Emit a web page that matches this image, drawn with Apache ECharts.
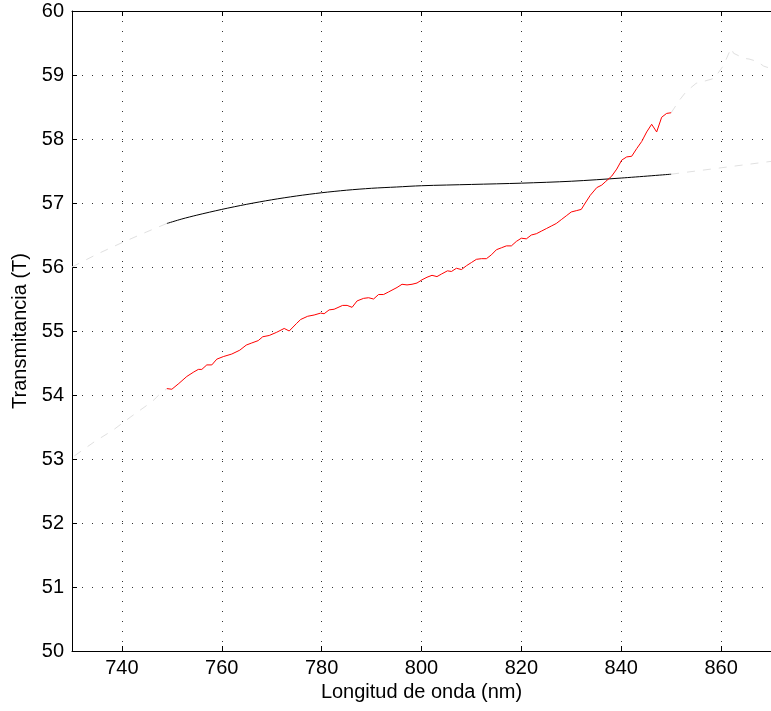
<!DOCTYPE html>
<html>
<head>
<meta charset="utf-8">
<script src="https://cdn.jsdelivr.net/npm/echarts@6/dist/echarts.min.js"></script>
<style>
  html, body { margin: 0; padding: 0; background: #ffffff; }
  #chart { width: 771px; height: 711px; }
</style>
</head>
<body>
<div id="chart"></div>
<script>
// Measured transmittance (red) between 749 and 850 nm
const redWl = [749.0, 750.0, 751.4, 753.0, 754.4, 755.3, 756.0, 757.0, 758.0, 759.0,
  760.3, 762.0, 763.6, 764.9, 765.9, 767.3, 768.2, 769.5, 771.0, 772.5,
  773.5, 775.0, 775.8, 777.2, 778.5, 779.8, 780.5, 781.5, 782.5, 784.2,
  785.1, 786.1, 787.1, 788.4, 789.4, 790.4, 791.4, 792.4, 793.4, 795.1,
  796.1, 797.1, 798.1, 799.1, 800.1, 801.1, 802.1, 803.1, 804.0, 805.2,
  806.0, 807.0, 808.0, 809.0, 810.0, 811.0, 812.0, 813.0, 814.0, 815.0,
  816.0, 817.0, 818.0, 819.0, 820.0, 821.0, 822.0, 823.0, 824.0, 825.0,
  826.0, 827.0, 828.0, 829.0, 830.0, 831.0, 832.0, 832.8, 833.8, 835.1,
  836.1, 836.8, 838.1, 839.1, 840.1, 841.1, 842.1, 843.1, 844.1, 845.1,
  846.1, 847.1, 848.1, 849.1, 850.0];
const redT = [54.10, 54.09, 54.18, 54.29, 54.36, 54.40, 54.40, 54.47, 54.47, 54.56,
  54.60, 54.64, 54.70, 54.78, 54.81, 54.85, 54.91, 54.93, 54.98, 55.04,
  55.00, 55.12, 55.18, 55.23, 55.25, 55.28, 55.27, 55.33, 55.34, 55.40,
  55.40, 55.37, 55.47, 55.51, 55.52, 55.50, 55.57, 55.57, 55.61, 55.68,
  55.73, 55.72, 55.73, 55.75, 55.80, 55.84, 55.87, 55.85, 55.89, 55.94,
  55.93, 55.98, 55.96, 56.02, 56.07, 56.12, 56.13, 56.13, 56.19, 56.27,
  56.30, 56.33, 56.33, 56.40, 56.45, 56.44, 56.50, 56.52, 56.56, 56.60,
  56.64, 56.68, 56.74, 56.80, 56.86, 56.88, 56.90, 57.00, 57.12, 57.24,
  57.28, 57.33, 57.42, 57.53, 57.67, 57.72, 57.73, 57.85, 57.96, 58.11,
  58.23, 58.11, 58.34, 58.40, 58.41];

// Model curve (black) over the same range
const blackWl = [749, 752, 755, 760, 765, 770, 775, 780, 785, 790, 795, 800, 810, 820, 830, 840, 850];
const blackT = [56.68, 56.75, 56.81, 56.90, 56.98, 57.05, 57.11, 57.16, 57.20, 57.23, 57.25, 57.27, 57.29, 57.31, 57.34, 57.39, 57.45];

// Light dashed continuations outside the measured range
const blackExtLeftWl = [730, 735, 740, 745, 749];
const blackExtLeftT = [56.00, 56.20, 56.38, 56.55, 56.68];
const blackExtRightWl = [850, 855, 860, 865, 870];
const blackExtRightT = [57.45, 57.50, 57.55, 57.60, 57.65];
const redExtLeftWl = [730.5, 734.5, 738.2, 741.8, 746.1, 747.4, 749.0];
const redExtLeftT = [53.05, 53.27, 53.45, 53.66, 53.90, 54.00, 54.10];
const redExtRightWl = [850.0, 851.7, 853.0, 855.0, 856.5, 858.7, 859.3, 860.5, 862.0, 862.5, 864.6, 865.6, 867.3, 868.5, 870.0];
const redExtRightT = [58.41, 58.61, 58.74, 58.87, 58.90, 58.95, 59.02, 59.15, 59.42, 59.34, 59.26, 59.25, 59.21, 59.14, 59.10];

const yTicks = [50, 51, 52, 53, 54, 55, 56, 57, 58, 59, 60];

const pairs = (xs, ys) => xs.map((x, i) => [x, ys[i]]);

const FONT = 'Liberation Sans, Arial, Helvetica, sans-serif';
const gridLine = { show: true, lineStyle: { color: '#333333', width: 1, type: [1, 9] } };

const grayLine = (xs, ys) => ({
  type: 'line',
  data: pairs(xs, ys),
  showSymbol: false,
  symbol: 'none',
  lineStyle: { color: '#e0e0e0', width: 1, type: [8, 8] },
  z: 1
});

const chart = echarts.init(document.getElementById('chart'), null, { renderer: 'canvas' });
chart.setOption({
  animation: false,
  backgroundColor: '#ffffff',
  grid: { left: 72, top: 11, width: 704, height: 640, containLabel: false },
  xAxis: [
    {
      type: 'value', min: 730, max: 870, splitNumber: 7, position: 'bottom',
      axisLine: { show: true, lineStyle: { color: '#000', width: 1 } },
      axisTick: { show: true, inside: true, length: 5, lineStyle: { color: '#000' } },
      axisLabel: { showMinLabel: false, showMaxLabel: false, color: '#000', fontSize: 20, fontFamily: FONT, margin: 7 },
      splitLine: gridLine,
      name: 'Longitud de onda (nm)', nameLocation: 'middle', nameGap: 30,
      nameTextStyle: { color: '#000', fontSize: 20, fontFamily: FONT }
    },
    {
      type: 'value', min: 730, max: 870, splitNumber: 7, position: 'top',
      axisLine: { show: true, lineStyle: { color: '#000', width: 1 } },
      axisTick: { show: true, inside: true, length: 5, lineStyle: { color: '#000' } },
      axisLabel: { show: false },
      splitLine: { show: false }
    }
  ],
  yAxis: {
    type: 'value', min: yTicks[0], max: yTicks[yTicks.length - 1], interval: 1,
    axisLine: { show: true, lineStyle: { color: '#000', width: 1 } },
    axisTick: { show: true, inside: true, length: 5, lineStyle: { color: '#000' } },
    axisLabel: { color: '#000', fontSize: 20, fontFamily: FONT, margin: 8 },
    splitLine: gridLine,
    name: 'Transmitancia (T)', nameLocation: 'middle', nameGap: 42,
    nameTextStyle: { color: '#000', fontSize: 20, fontFamily: FONT }
  },
  series: [
    grayLine(blackExtLeftWl, blackExtLeftT),
    grayLine(blackExtRightWl, blackExtRightT),
    grayLine(redExtLeftWl, redExtLeftT),
    grayLine(redExtRightWl, redExtRightT),
    {
      type: 'line', data: pairs(blackWl, blackT), showSymbol: false, symbol: 'none',
      smooth: 0.3, lineStyle: { color: '#000000', width: 1 }, z: 3
    },
    {
      type: 'line', data: pairs(redWl, redT), showSymbol: false, symbol: 'none',
      lineStyle: { color: '#ff0000', width: 1 }, z: 4
    }
  ]
});
</script>
</body>
</html>
